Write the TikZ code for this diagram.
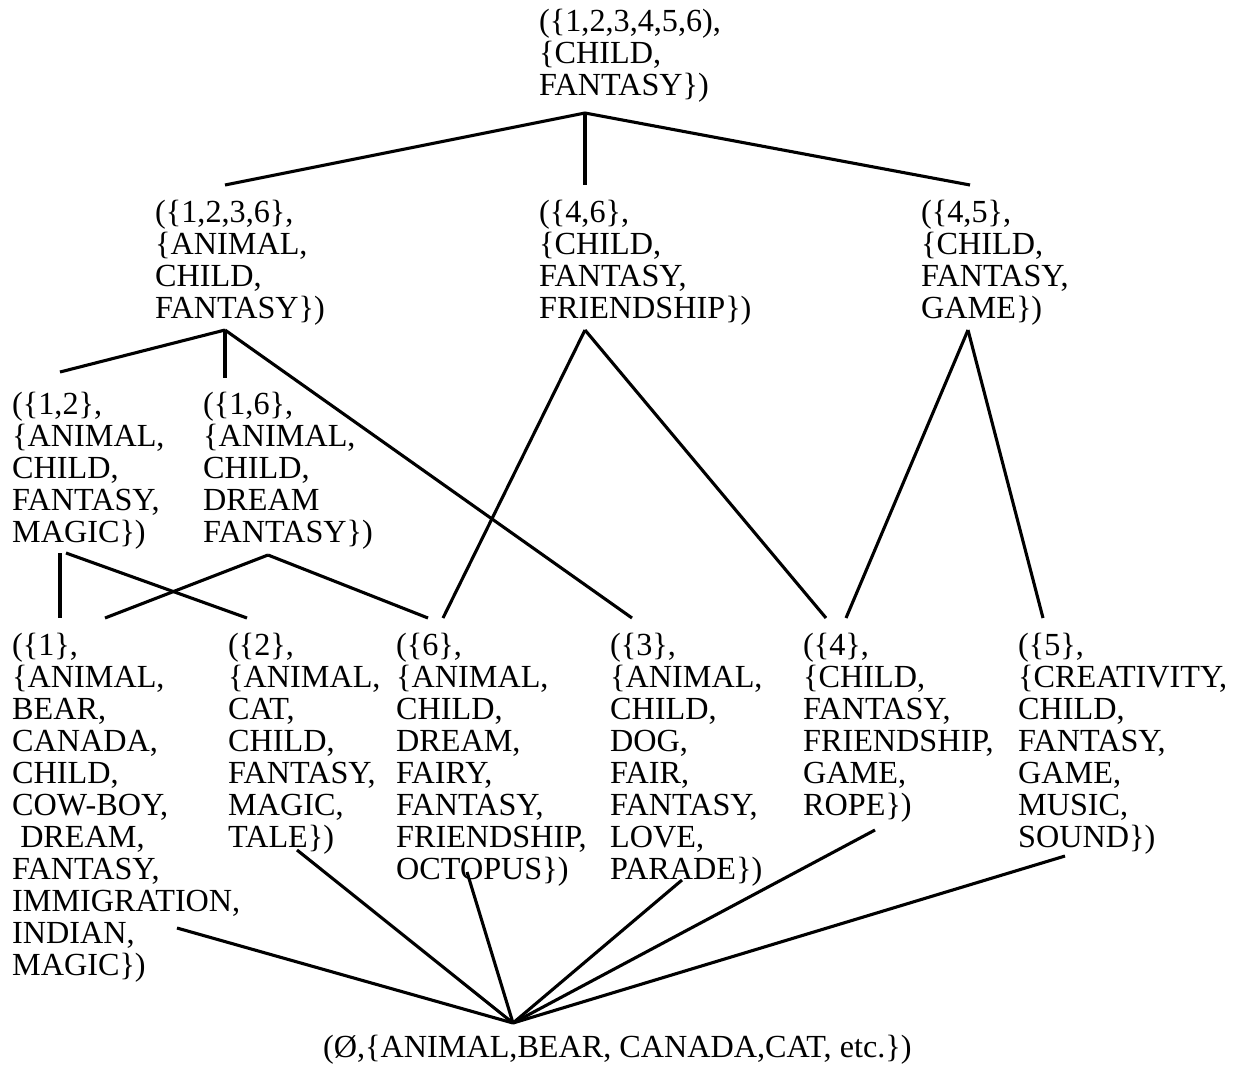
\documentclass[tikz,border=0pt]{standalone}
\usepackage{fontspec}
\setmainfont{Liberation Serif}
\usepackage{tikz}
\newcommand{\latfont}{\fontsize{32.2}{32}\selectfont}

\begin{document}
\begin{tikzpicture}[
    x=1pt, y=-1pt,
    concept/.style={anchor=base west, align=left, inner sep=0pt, font=\latfont},
    link/.style={line width=3.1pt}
  ]
    \useasboundingbox (0,0) rectangle (1233,1069);

    % nodes sit on the baseline of their last line
    \node[concept] (top)   at (539,95)  {(\{1,2,3,4,5,6),\\\{CHILD,\\FANTASY\})};
    \node[concept] (n1236) at (155,318) {(\{1,2,3,6\},\\\{ANIMAL,\\CHILD,\\FANTASY\})};
    \node[concept] (n46)   at (539,318) {(\{4,6\},\\\{CHILD,\\FANTASY,\\FRIENDSHIP\})};
    \node[concept] (n45)   at (921,318) {(\{4,5\},\\\{CHILD,\\FANTASY,\\GAME\})};
    \node[concept] (n12)   at (12,542)  {(\{1,2\},\\\{ANIMAL,\\CHILD,\\FANTASY,\\MAGIC\})};
    \node[concept] (n16)   at (203,542) {(\{1,6\},\\\{ANIMAL,\\CHILD,\\DREAM\\FANTASY\})};
    \node[concept] (n1)    at (12,975)  {(\{1\},\\\{ANIMAL,\\BEAR,\\CANADA,\\CHILD,\\COW-BOY,\\\ DREAM,\\FANTASY,\\IMMIGRATION,\\INDIAN,\\MAGIC\})};
    \node[concept] (n2)    at (228,847) {(\{2\},\\\{ANIMAL,\\CAT,\\CHILD,\\FANTASY,\\MAGIC,\\TALE\})};
    \node[concept] (n6)    at (396,879) {(\{6\},\\\{ANIMAL,\\CHILD,\\DREAM,\\FAIRY,\\FANTASY,\\FRIENDSHIP,\\OCTOPUS\})};
    \node[concept] (n3)    at (610,879) {(\{3\},\\\{ANIMAL,\\CHILD,\\DOG,\\FAIR,\\FANTASY,\\LOVE,\\PARADE\})};
    \node[concept] (n4)    at (803,815) {(\{4\},\\\{CHILD,\\FANTASY,\\FRIENDSHIP,\\GAME,\\ROPE\})};
    \node[concept] (n5)    at (1018,847) {(\{5\},\\\{CREATIVITY,\\CHILD,\\FANTASY,\\GAME,\\MUSIC,\\SOUND\})};
    \node[concept] (bottom) at (323,1057) {(Ø,\{ANIMAL,BEAR, CANADA,CAT, etc.\})};

    % top concept to the second row
    \draw[link] ([shift={(46,18)}]top.base west) -- ([shift={(70,-133)}]n1236.base west);
    \draw[link] ([shift={(46,18)}]top.base west) -- ([shift={(46,-133)}]n46.base west);
    \draw[link] ([shift={(46,18)}]top.base west) -- ([shift={(49,-133)}]n45.base west);

    % second row downwards
    \draw[link] ([shift={(70,12)}]n1236.base west) -- ([shift={(48,-170)}]n12.base west);
    \draw[link] ([shift={(70,12)}]n1236.base west) -- ([shift={(22,-164)}]n16.base west);
    \draw[link] ([shift={(70,12)}]n1236.base west) -- ([shift={(22,-261)}]n3.base west);
    \draw[link] ([shift={(46,12)}]n46.base west) -- ([shift={(47,-261)}]n6.base west);
    \draw[link] ([shift={(46,12)}]n46.base west) -- ([shift={(23,-197)}]n4.base west);
    \draw[link] ([shift={(47,12)}]n45.base west) -- ([shift={(43,-197)}]n4.base west);
    \draw[link] ([shift={(47,12)}]n45.base west) -- ([shift={(25,-229)}]n5.base west);

    % third row downwards
    \draw[link] ([shift={(48,11)}]n12.base west) -- ([shift={(48,-357)}]n1.base west);
    \draw[link] ([shift={(54,11)}]n12.base west) -- ([shift={(19,-229)}]n2.base west);
    \draw[link] ([shift={(65,13)}]n16.base west) -- ([shift={(93,-357)}]n1.base west);
    \draw[link] ([shift={(65,13)}]n16.base west) -- ([shift={(32,-261)}]n6.base west);

    % objects to the bottom concept
    \draw[link] ([shift={(165,-47)}]n1.base west) -- ([shift={(190,-34)}]bottom.base west);
    \draw[link] ([shift={(69,3)}]n2.base west) -- ([shift={(190,-34)}]bottom.base west);
    \draw[link] ([shift={(71,-7)}]n6.base west) -- ([shift={(190,-34)}]bottom.base west);
    \draw[link] ([shift={(72,1)}]n3.base west) -- ([shift={(190,-34)}]bottom.base west);
    \draw[link] ([shift={(72,15)}]n4.base west) -- ([shift={(190,-34)}]bottom.base west);
    \draw[link] ([shift={(47,9)}]n5.base west) -- ([shift={(190,-34)}]bottom.base west);
  \end{tikzpicture}
\end{document}
